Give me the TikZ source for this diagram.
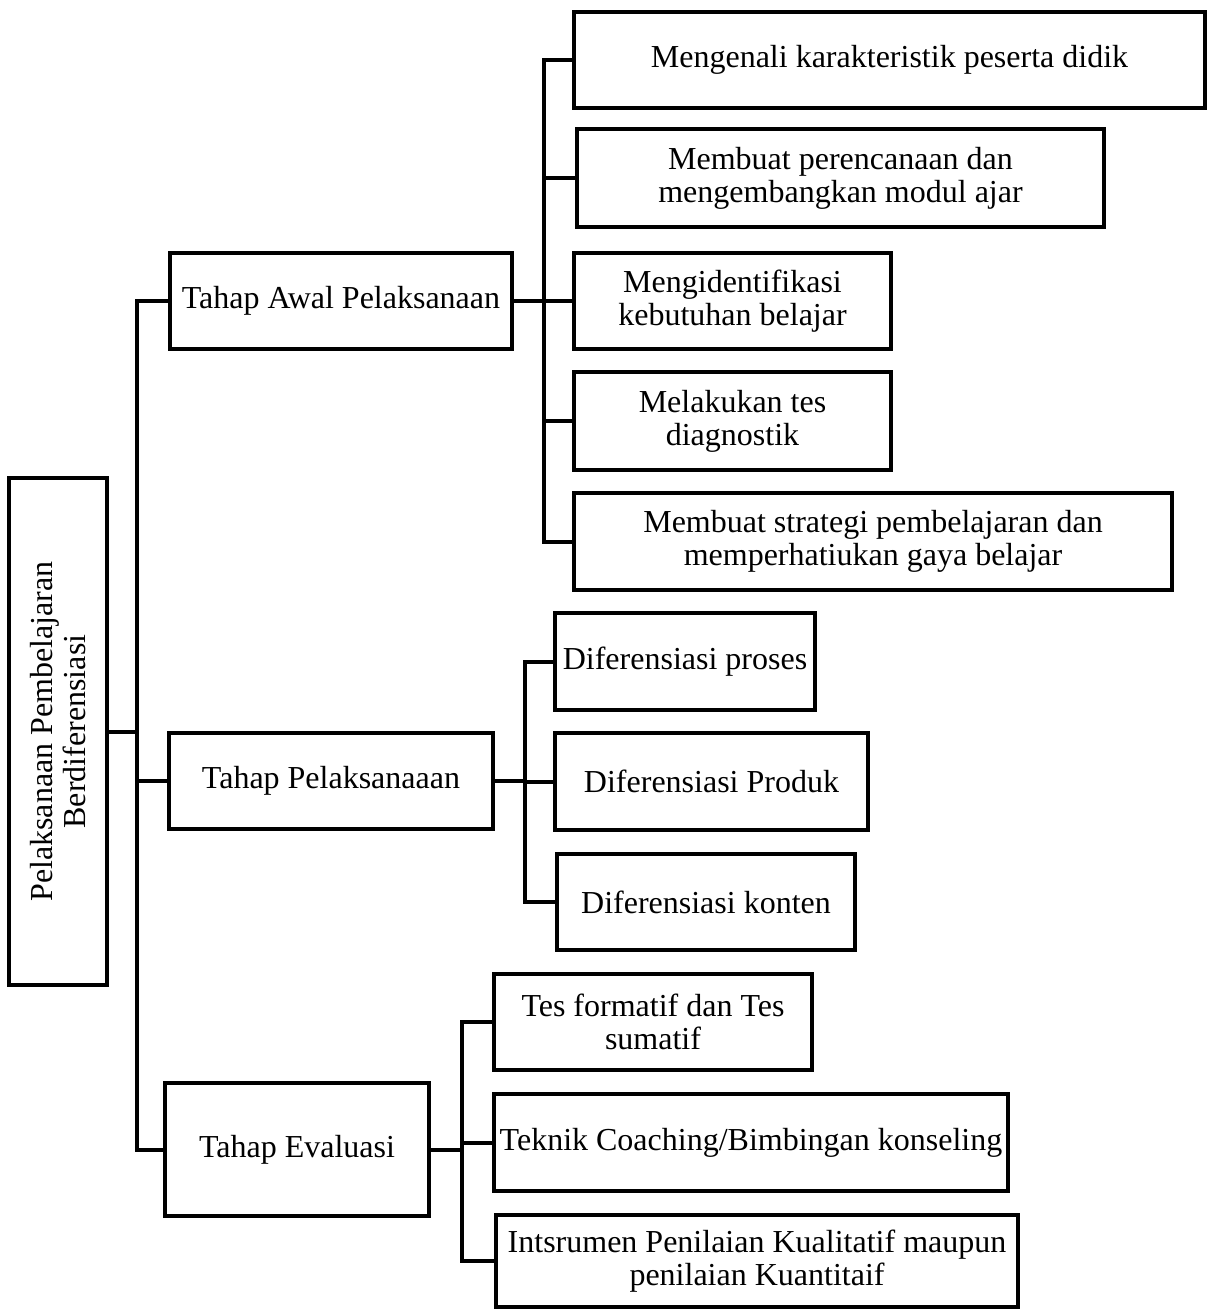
\documentclass[tikz,border=0pt]{standalone}
\usepackage{fontspec}
\setmainfont{Liberation Serif}
\begin{document}
\begin{tikzpicture}[x=0.5pt,y=-0.5pt,
  box/.style={draw=black,line width=2pt,rectangle,inner sep=0pt,align=center,
    font=\fontsize{16}{16.5}\selectfont,anchor=center},
  conn/.style={draw=black,line width=2pt}]
\useasboundingbox (0,0) rectangle (1214,1309);
% root
\node[box,minimum width=49pt,minimum height=253.5pt] (root) at (58,731.5) {};
\node[rotate=90,align=center,font=\fontsize{16}{16.5}\selectfont] (rootlbl) at (58,731.5) {Pelaksanaan Pembelajaran\\Berdiferensiasi};
% level 1
\node[box,minimum width=171pt,minimum height=48pt] (A) at (341,301) {Tahap Awal Pelaksanaan};
\node[box,minimum width=162pt,minimum height=48pt] (B) at (331,781) {Tahap Pelaksanaaan};
\node[box,minimum width=132pt,minimum height=66.5pt] (C) at (297,1149.5) {Tahap Evaluasi};
% group A
\node[box,minimum width=315.5pt,minimum height=48pt] (A1) at (889.5,60) {Mengenali karakteristik peserta didik};
\node[box,minimum width=263.5pt,minimum height=49pt] (A2) at (840.5,178) {Membuat perencanaan dan\\mengembangkan modul ajar};
\node[box,minimum width=158.5pt,minimum height=48pt] (A3) at (732.5,301) {Mengidentifikasi\\kebutuhan belajar};
\node[box,minimum width=158.5pt,minimum height=49pt] (A4) at (732.5,421) {Melakukan tes\\diagnostik};
\node[box,minimum width=299pt,minimum height=48.5pt] (A5) at (873,541.5) {Membuat strategi pembelajaran dan\\memperhatiukan gaya belajar};
% group B
\node[box,minimum width=130pt,minimum height=48.5pt] (B1) at (685,661.5) {Diferensiasi proses};
\node[box,minimum width=156.5pt,minimum height=48.5pt] (B2) at (711.5,781.5) {Diferensiasi Produk};
\node[box,minimum width=149pt,minimum height=48pt] (B3) at (706,902) {Diferensiasi konten};
% group C
\node[box,minimum width=159pt,minimum height=48pt] (C1) at (653,1022) {Tes formatif dan Tes\\sumatif};
\node[box,minimum width=257pt,minimum height=48.5pt] (C2) at (751,1142.5) {Teknik Coaching/Bimbingan konseling};
\node[box,minimum width=261pt,minimum height=46pt] (C3) at (757,1261) {Intsrumen Penilaian Kualitatif maupun\\penilaian Kuantitaif};
% trunk coordinates
\coordinate (t0) at (137,0);
\coordinate (t1) at (544,0);
\coordinate (t2) at (525,0);
\coordinate (t3) at (462,0);
% level 1 connectors
\draw[conn] (root.east) -- (root.east -| t0);
\draw[conn] (A.west) -- (A.west -| t0) -- (C.west -| t0) -- (C.west);
\draw[conn] (B.west) -- (B.west -| t0);
% group A connectors
\draw[conn] (A.east) -- (A.east -| t1);
\draw[conn] (A1.west) -- (A1.west -| t1) -- (A5.west -| t1) -- (A5.west);
\draw[conn] (A2.west) -- (A2.west -| t1);
\draw[conn] (A3.west) -- (A3.west -| t1);
\draw[conn] (A4.west) -- (A4.west -| t1);
% group B connectors
\draw[conn] (B.east) -- (B.east -| t2);
\draw[conn] (B1.west) -- (B1.west -| t2) -- (B3.west -| t2) -- (B3.west);
\draw[conn] (B2.west) -- (B2.west -| t2);
% group C connectors
\draw[conn] (C.east) -- (C.east -| t3);
\draw[conn] (C1.west) -- (C1.west -| t3) -- (C3.west -| t3) -- (C3.west);
\draw[conn] (C2.west) -- (C2.west -| t3);
\end{tikzpicture}
\end{document}
